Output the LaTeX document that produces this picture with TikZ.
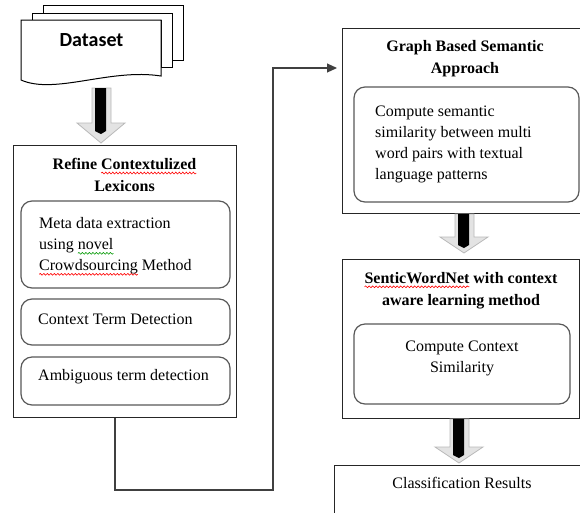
\documentclass[tikz,border=0pt]{standalone}
\usepackage{fontspec}
\setmainfont{Liberation Serif}
\newfontfamily\calibri{Carlito}
\usetikzlibrary{arrows.meta,decorations.pathmorphing}
\newcommand\wavy[2]{\leavevmode\setbox0=\hbox{#2}\rlap{\tikz[overlay, baseline=0pt, x=1pt, y=1pt]\draw[#1, line width=0.6pt, decorate, decoration={snake, amplitude=0.9pt, segment length=3.5pt}] (0,-3.5) -- (\the\wd0,-3.5);}\box0\relax}
\newcommand\redwave[1]{\wavy{red}{#1}}
\newcommand\greenwave[1]{\wavy{green!60!black}{#1}}
\newcommand\bigdownarrow[4]{%
  \filldraw[fill=gray!22, draw=gray!55, line width=0.8pt]
    (#1-9,#2) -- (#1+10,#2) -- (#1+10,#3) -- (#1+24,#3) -- (#1,#4)
    -- (#1-24,#3) -- (#1-9,#3) -- cycle;
  \fill[black] (#1-6,#2) -- (#1+5,#2) -- (#1+5,#3+8) -- (#1,#3+11)
    -- (#1-6,#3+8) -- cycle;}
\tikzset{
  outerbox/.style={draw=black!85, line width=1pt, fill=white, inner sep=0pt},
  innerbox/.style={draw=black!65, line width=1.2pt, rounded corners=11pt, inner sep=0pt},
  bodytext/.style={font=\fontsize{16}{21}\selectfont, inner sep=0pt},
  titletext/.style={font=\fontsize{16}{22}\selectfont\bfseries, align=center, inner sep=0pt},
  conn/.style={draw=black!75, line width=1.1pt},
  docpage/.style={draw=black, line width=1pt, fill=white}
}
\begin{document}
\begin{tikzpicture}[x=1pt,y=-1pt]
\clip (0,0) rectangle (580,512);
\fill[white] (0,0) rectangle (580,512);

% Dataset stack
\path[docpage] (43,5) -- (183,5) -- (183,60) -- (172,60) -- (172,13) -- (43,13) -- cycle;
\path[docpage] (32,13) -- (172,13) -- (172,67) -- (161,67) -- (161,20) -- (32,20) -- cycle;
\path[docpage] (21,20) -- (161,20) -- (161,76) .. controls (110,68) and (55,95) .. (21,80) -- cycle;
\node[font=\calibri\fontsize{20}{24}\selectfont\bfseries, inner sep=0pt] (dataset) at (91.5,40) {Dataset};

% Arrow dataset -> refine
\bigdownarrow{101}{88}{123}{143}

% Refine box
\node[outerbox, minimum width=223pt, minimum height=272pt] (refine) at (124.5,281) {};
\node[titletext] (refinet) at (124.5,175) {Refine \redwave{Contextulized}\\Lexicons};
\node[innerbox, minimum width=209pt, minimum height=87pt] (meta) at (125.5,244.5) {};
\node[bodytext, align=left, anchor=west] (metat) at (39,246) {Meta data extraction\\using \greenwave{novel}\\\redwave{Crowdsourcing} Method};
\node[innerbox, minimum width=209pt, minimum height=46pt] (ctd) at (125.5,322) {};
\node[bodytext, anchor=west] (ctdt) at (38,319) {Context Term Detection};
\node[innerbox, minimum width=209pt, minimum height=48pt] (atd) at (125.5,381) {};
\node[bodytext, anchor=west] (atdt) at (38,377) {Ambiguous term detection};

% Graph box
\node[outerbox, minimum width=248pt, minimum height=185pt] (graph) at (466,120.5) {};
\node[titletext] (grapht) at (465,59) {Graph Based Semantic\\Approach};
\node[innerbox, minimum width=225pt, minimum height=115pt] (gin) at (466.5,144.5) {};
\node[bodytext, align=left, anchor=west] (gint) at (375,144.5) {Compute semantic\\similarity between multi\\word pairs with textual\\language patterns};

% Arrow graph -> sentic
\bigdownarrow{464}{214}{237}{253}

% Sentic box
\node[outerbox, minimum width=237pt, minimum height=159pt] (sentic) at (460.5,338.5) {};
\node[titletext] (sentict) at (461,290.5) {\redwave{SenticWordNet} with context\\aware learning method};
\node[innerbox, minimum width=216pt, minimum height=80pt] (sin) at (462,364) {};
\node[bodytext, align=center] (sint) at (462,358) {Compute Context\\Similarity};

% Arrow sentic -> classification
\bigdownarrow{459}{419}{447}{463}

% Classification box
\node[outerbox, minimum width=266pt, minimum height=80pt] (cls) at (467,505) {};
\node[bodytext] (clst) at (462,483) {Classification Results};

% Connector refine -> graph
\coordinate (k1) at (115,490);
\coordinate (k2) at (273,490);
\coordinate (k3) at (273,68);
\coordinate (k4) at (337,68);
\draw[conn, -{Triangle[length=10pt,width=9pt]}] (refine.south -| k1) -- (k1) -- (k2) -- (k3) -- (k4);
\end{tikzpicture}
\end{document}
